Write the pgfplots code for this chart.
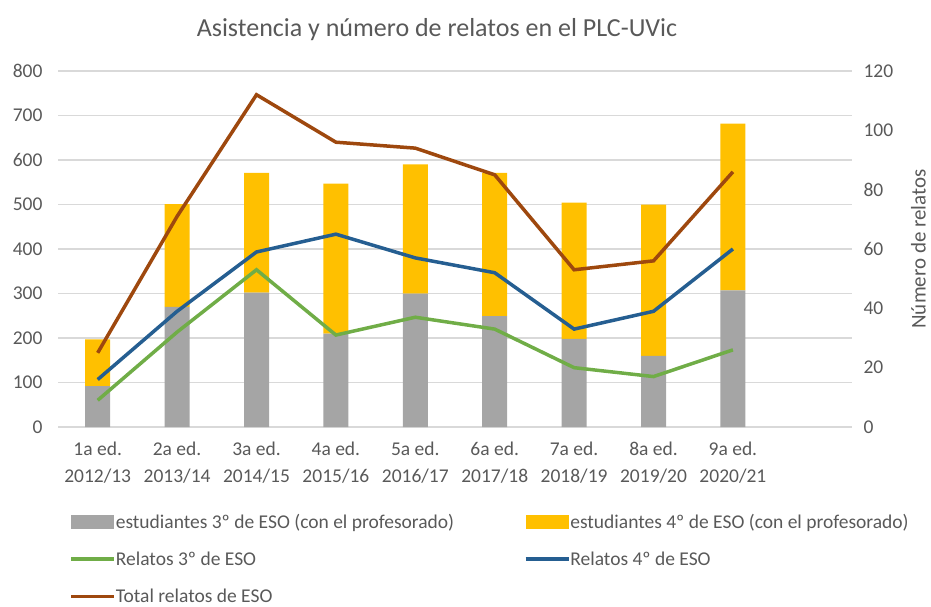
\documentclass[border=0pt]{standalone}
\usepackage{fontspec}
\setmainfont{Carlito}
\usepackage{pgfplots}
\pgfplotsset{compat=1.18}
\definecolor{cgray}{HTML}{A5A5A5}
\definecolor{cyellow}{HTML}{FFC000}
\definecolor{cgreen}{HTML}{70AD47}
\definecolor{cblue}{HTML}{255E91}
\definecolor{cbrown}{HTML}{9E480E}
\definecolor{cgrid}{HTML}{D9D9D9}
\definecolor{ctext}{HTML}{595959}
\begin{document}
\begin{tikzpicture}
\path[use as bounding box] (0,0) rectangle (931pt,606pt);
\node[font=\fontsize{26}{30}\selectfont, text=ctext] at (437pt,576pt) {Asistencia y número de relatos en el PLC-UVic};
\begin{axis}[
  at={(58pt,179pt)}, anchor=south west, scale only axis,
  width=794pt, height=356pt,
  xmin=-0.5, xmax=9.5, ymin=0, ymax=800,
  ytick={0,100,...,800},
  ybar stacked, bar width=25pt,
  xtick={0,...,8},
  xticklabels={{1a ed.\\2012/13},{2a ed.\\2013/14},{3a ed.\\2014/15},{4a ed.\\2015/16},{5a ed.\\2016/17},{6a ed.\\2017/18},{7a ed.\\2018/19},{8a ed.\\2019/20},{9a ed.\\2020/21}},
  axis line style={draw=none}, major tick length=0pt,
  ymajorgrids, grid style={cgrid, line width=1.2pt},
  tick label style={font=\fontsize{19.5}{27}\selectfont, text=ctext},
  /pgf/number format/assume math mode=true,
  xticklabel style={align=center, yshift=-11pt},
  yticklabel style={xshift=-12pt},
]
\addplot[fill=cgray, draw=none] coordinates {(0,92) (1,270) (2,302) (3,210) (4,300) (5,249) (6,198) (7,160) (8,307)};
\addplot[fill=cyellow, draw=none] coordinates {(0,105) (1,231) (2,269) (3,337) (4,290) (5,322) (6,306) (7,340) (8,375)};
\end{axis}
\begin{axis}[
  at={(58pt,179pt)}, anchor=south west, scale only axis,
  width=794pt, height=356pt,
  xmin=-0.5, xmax=9.5, ymin=0, ymax=120,
  ytick={0,20,...,120},
  axis y line*=right, hide x axis,
  axis line style={draw=none}, major tick length=0pt,
  tick label style={font=\fontsize{19.5}{23}\selectfont, text=ctext},
  /pgf/number format/assume math mode=true,
  yticklabel style={xshift=8pt},
  ylabel={Número de relatos},
  ylabel style={font=\fontsize{21}{25}\selectfont, text=ctext, yshift=-11pt},
  legend columns=2,
  legend cell align=left,
  legend image code/.code={\draw[line width=3.5pt] (0pt,0pt) -- (43pt,0pt);},
  legend style={draw=none, fill=none, at={(0.014,-0.238)}, anchor=north west,
    font=\fontsize{19.5}{23}\selectfont, text=ctext, row sep=18pt, inner sep=0pt,
    /tikz/every odd column/.append style={column sep=-2pt}},
]
\addlegendimage{fill=cgray, draw=none, legend image code/.code={\fill[cgray] (0pt,-7pt) rectangle (43pt,7pt);}}
\addlegendentry{\makebox[406pt][l]{estudiantes 3º de ESO (con el profesorado)}}
\addlegendimage{fill=cyellow, draw=none, legend image code/.code={\fill[cyellow] (0pt,-7pt) rectangle (43pt,7pt);}}
\addlegendentry{estudiantes 4º de ESO (con el profesorado)}
\addplot[cgreen, line width=3.5pt] coordinates {(0,9) (1,32) (2,53) (3,31) (4,37) (5,33) (6,20) (7,17) (8,26)};
\addlegendentry{\makebox[406pt][l]{Relatos 3º de ESO}}
\addplot[cblue, line width=3.5pt] coordinates {(0,16) (1,39) (2,59) (3,65) (4,57) (5,52) (6,33) (7,39) (8,60)};
\addlegendentry{Relatos 4º de ESO}
\addplot[cbrown, line width=3.5pt] coordinates {(0,25) (1,71) (2,112) (3,96) (4,94) (5,85) (6,53) (7,56) (8,86)};
\addlegendentry{Total relatos de ESO}
\end{axis}
\end{tikzpicture}
\end{document}
